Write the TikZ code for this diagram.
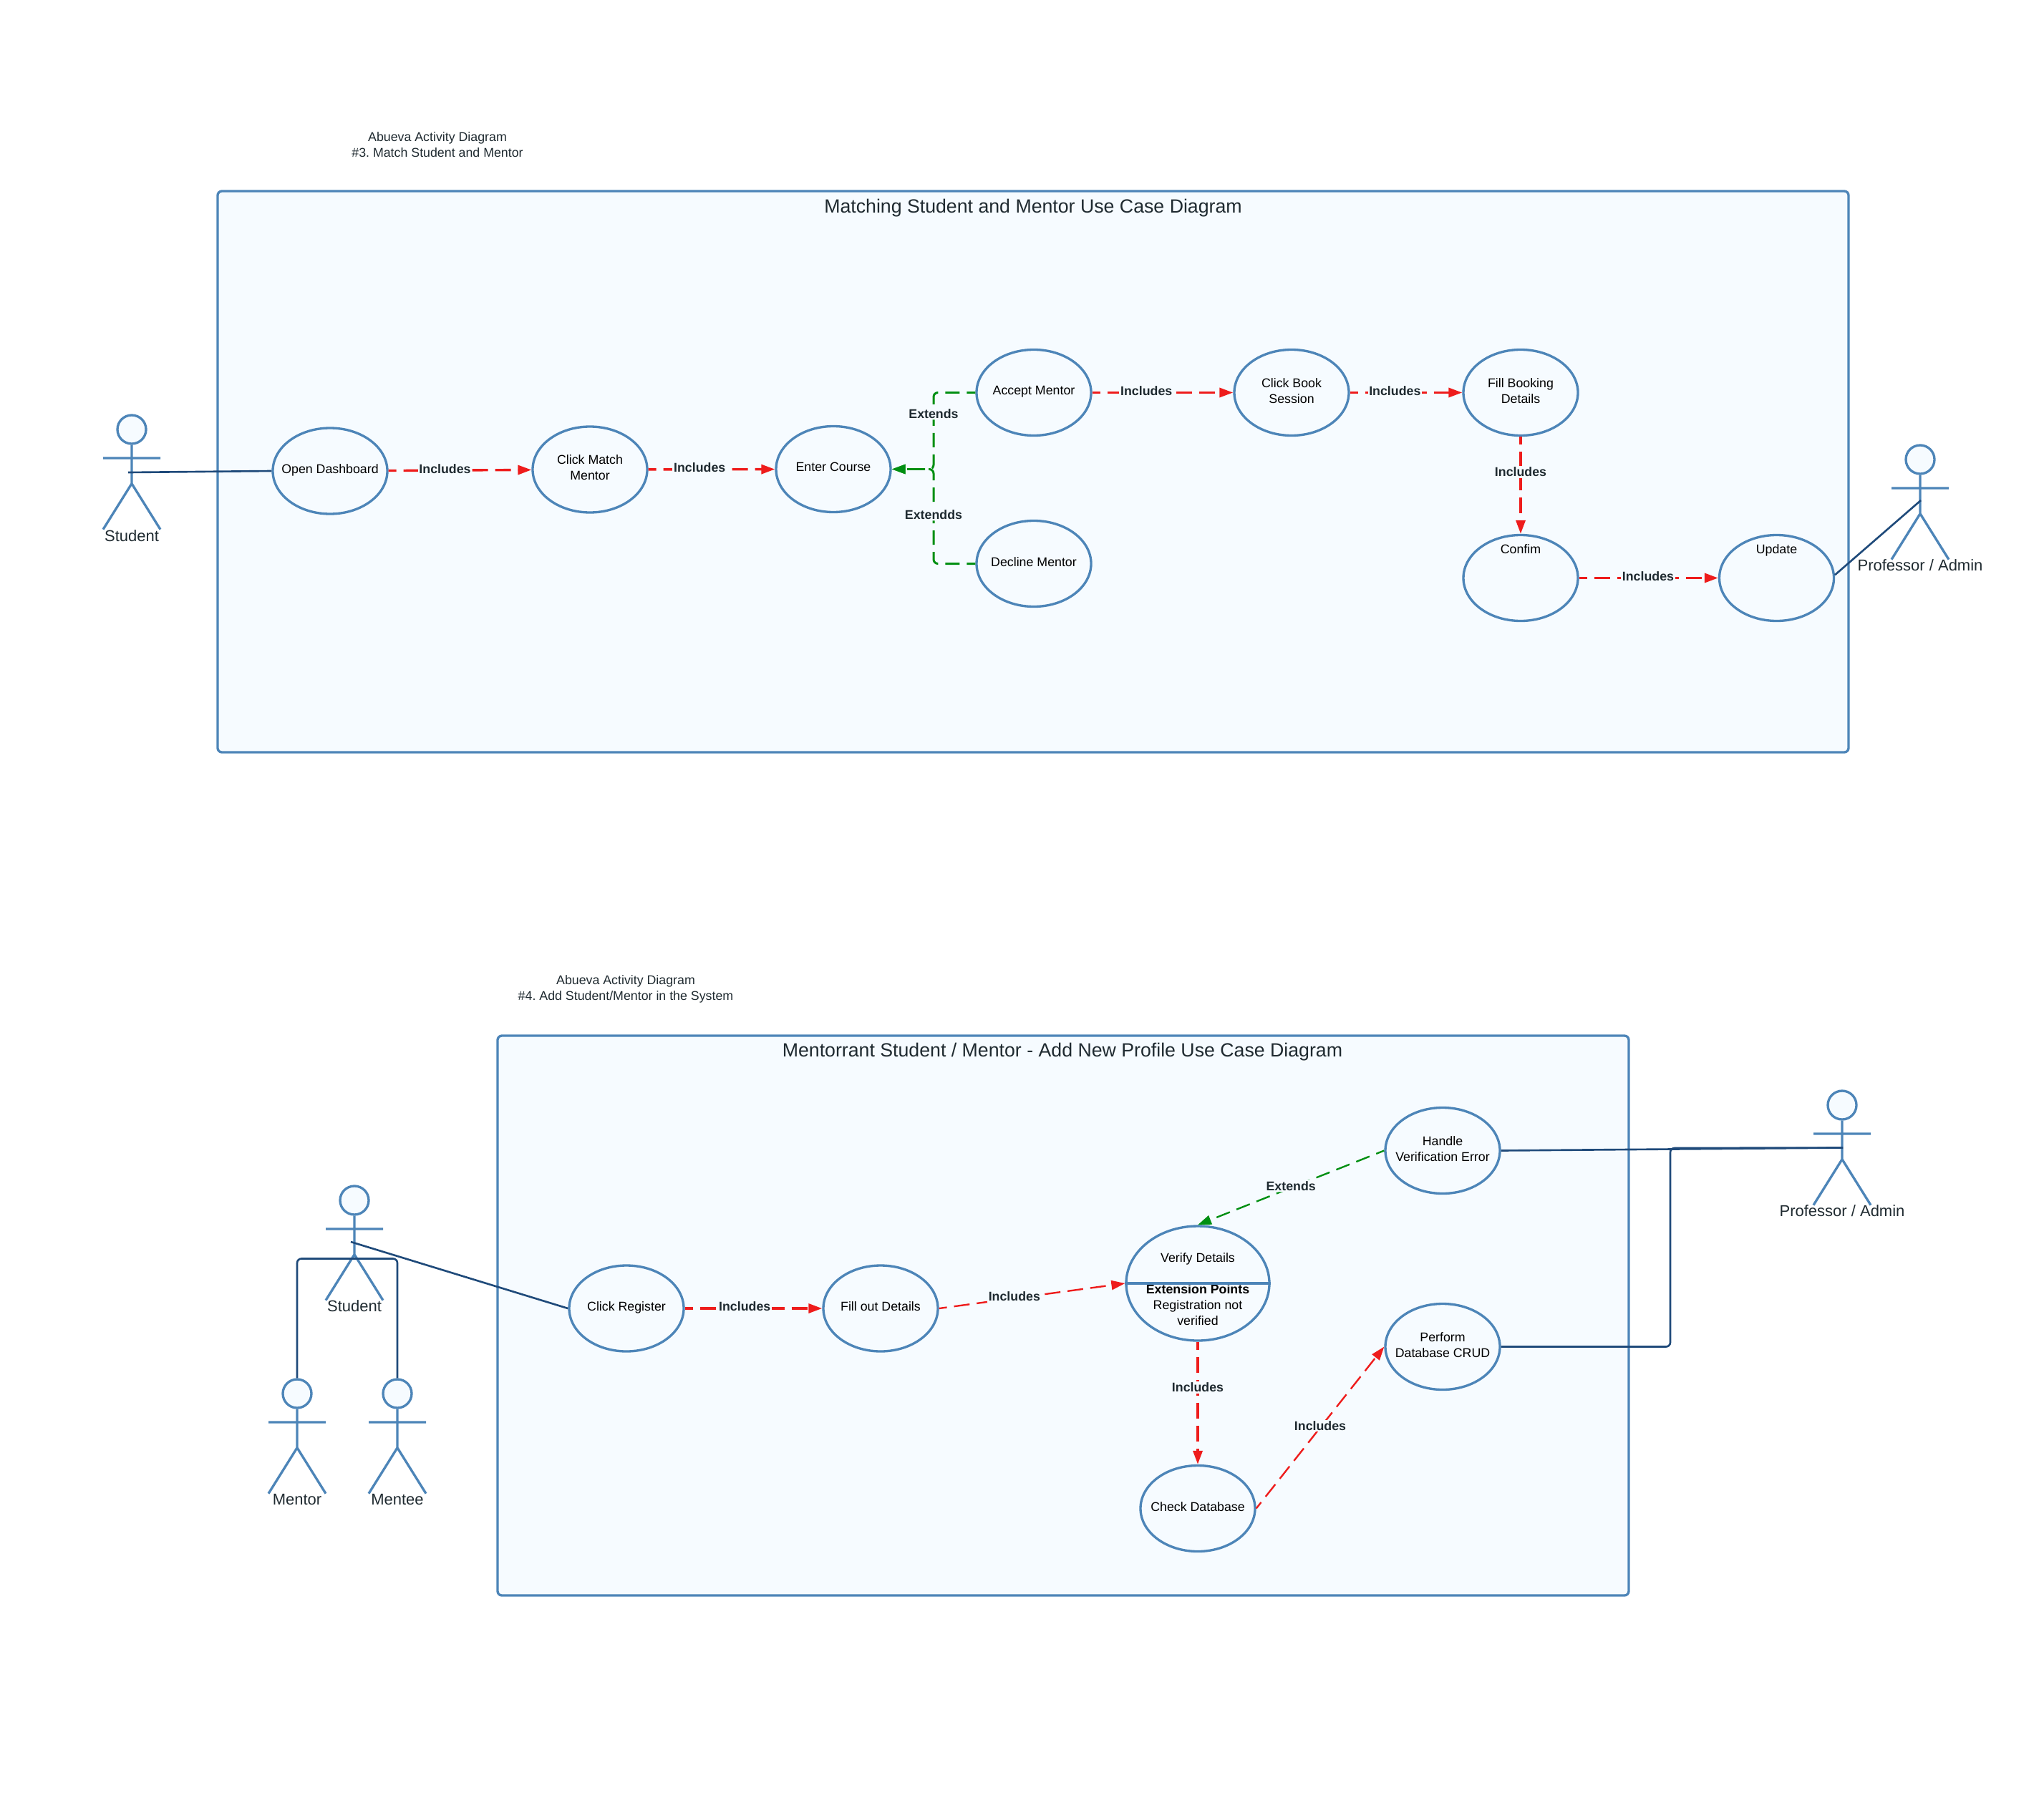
\documentclass[tikz,border=0pt]{standalone}
\usepackage{fontspec}
\setmainfont{Liberation Sans}
\usepackage{xcolor}
\usetikzlibrary{arrows.meta,shapes.geometric}
\definecolor{panelfill}{HTML}{F6FBFF}
\definecolor{panelline}{HTML}{4D85B8}
\definecolor{assocline}{HTML}{1F4A7A}
\definecolor{inclred}{HTML}{EE1C1C}
\definecolor{extgreen}{HTML}{008F12}
\definecolor{inktext}{HTML}{1F2A30}
\frenchspacing
\begin{document}
\begin{tikzpicture}[x=1cm,y=-1cm,>={Triangle[length=1.9mm,width=1.3mm]},
panel/.style={draw=panelline,fill=panelfill,line width=0.95pt,rounded corners=1.7pt,inner sep=0},
paneltitle/.style={text=inktext,font=\fontsize{7.6}{9.4}\selectfont},
notetext/.style={text=inktext,align=center,font=\fontsize{5.06}{6.2}\selectfont},
usecase/.style={ellipse,draw=panelline,fill=panelfill,line width=0.95pt,inner sep=-1.5cm,minimum width=1.6cm,minimum height=1.2cm,align=center,text depth=1.6pt,font=\fontsize{5.06}{6.2}\selectfont},
ucline/.style={draw=panelline,line width=0.95pt},
actorhead/.style={circle,draw=panelline,fill=panelfill,line width=0.95pt,inner sep=0,minimum size=0.4cm},
actorline/.style={draw=panelline,line width=0.95pt},
actorname/.style={text=inktext,font=\fontsize{6.26}{7.6}\selectfont},
assoc/.style={draw=assocline,line width=0.75pt,rounded corners=1.7pt},
includes/.style={->,draw=inclred,line width=0.95pt,dash pattern=on 0.22cm off 0.10cm,dash phase=0.11cm},
extends/.style={->,draw=extgreen,line width=0.85pt,rounded corners=1.7pt,dash pattern=on 0.2cm off 0.10cm,dash phase=0.08cm},
sloped line/.style={line width=0.68pt},
linktext/.style={text=inktext,fill=panelfill,inner sep=0.5pt,yshift=0.7pt,font=\bfseries\fontsize{5.06}{6.2}\selectfont}]
\useasboundingbox (0,0) rectangle (28.55,25.26);
\node[notetext] (nMatch) at (6.11,2.025) {Abueva Activity Diagram\\\#3. Match Student and Mentor};
\node[panel,minimum width=22.78cm,minimum height=7.84cm] (pMatch) at (14.43,6.59) {};
\node[paneltitle] (tMatch) at (14.43,2.91) {Matching Student and Mentor Use Case Diagram};
\node[notetext] (nAdd) at (8.74,13.82) {Abueva Activity Diagram\\\#4. Add Student/Mentor in the System};
\node[panel,minimum width=15.80cm,minimum height=7.82cm] (pAdd) at (14.85,18.38) {};
\node[paneltitle] (tAdd) at (14.84,14.70) {Mentorrant Student / Mentor - Add New Profile Use Case Diagram};
\node[actorhead] (aStudentHead) at (1.84,6.00) {};
\draw[actorline] (aStudentHead.south) -- ++(0,0.54) -- ++(-0.4,0.64) ++(0.4,-0.64) -- ++(0.4,0.64) (aStudentHead.center) ++(-0.4,0.4) -- ++(0.8,0);
\node[actorname] (aStudentName) at (1.84,7.49) {Student};
\node[actorhead] (aProfHead) at (26.82,6.42) {};
\draw[actorline] (aProfHead.south) -- ++(0,0.54) -- ++(-0.4,0.64) ++(0.4,-0.64) -- ++(0.4,0.64) (aProfHead.center) ++(-0.4,0.4) -- ++(0.8,0);
\node[actorname] (aProfName) at (26.82,7.90) {Professor / Admin};
\node[actorhead] (aLearnerHead) at (4.95,16.77) {};
\draw[actorline] (aLearnerHead.south) -- ++(0,0.54) -- ++(-0.4,0.64) ++(0.4,-0.64) -- ++(0.4,0.64) (aLearnerHead.center) ++(-0.4,0.4) -- ++(0.8,0);
\node[actorname] (aLearnerName) at (4.95,18.25) {Student};
\node[actorhead] (aMentorHead) at (4.15,19.47) {};
\draw[actorline] (aMentorHead.south) -- ++(0,0.54) -- ++(-0.4,0.64) ++(0.4,-0.64) -- ++(0.4,0.64) (aMentorHead.center) ++(-0.4,0.4) -- ++(0.8,0);
\node[actorname] (aMentorName) at (4.15,20.95) {Mentor};
\node[actorhead] (aMenteeHead) at (5.55,19.47) {};
\draw[actorline] (aMenteeHead.south) -- ++(0,0.54) -- ++(-0.4,0.64) ++(0.4,-0.64) -- ++(0.4,0.64) (aMenteeHead.center) ++(-0.4,0.4) -- ++(0.8,0);
\node[actorname] (aMenteeName) at (5.55,20.95) {Mentee};
\node[actorhead] (aAdminHead) at (25.73,15.44) {};
\draw[actorline] (aAdminHead.south) -- ++(0,0.54) -- ++(-0.4,0.64) ++(0.4,-0.64) -- ++(0.4,0.64) (aAdminHead.center) ++(-0.4,0.4) -- ++(0.8,0);
\node[actorname] (aAdminName) at (25.73,16.92) {Professor / Admin};
\node[usecase] (ucOpen) at (4.61,6.58) {Open Dashboard};
\node[usecase] (ucMatch) at (8.24,6.56) {Click Match\\Mentor};
\node[usecase] (ucEnter) at (11.64,6.555) {Enter Course};
\node[usecase] (ucAccept) at (14.44,5.485) {Accept Mentor};
\node[usecase] (ucDecline) at (14.44,7.875) {Decline Mentor};
\node[usecase] (ucBook) at (18.04,5.485) {Click Book\\Session};
\node[usecase] (ucFill) at (21.24,5.485) {Fill Booking\\Details};
\node[usecase] (ucConfim) at (21.24,8.075) {Confim\\[0.54cm]~};
\node[usecase] (ucUpdate) at (24.815,8.075) {Update\\[0.54cm]~};
\node[usecase] (ucRegister) at (8.75,18.28) {Click Register};
\node[usecase] (ucDetails) at (12.30,18.28) {Fill out Details};
\node[usecase,minimum width=2cm,minimum height=1.6cm] (ucVerify) at (16.73,17.93) {~\\[0.13cm]Verify Details\\[0.22cm]\textbf{Extension Points}\\Registration not\\verified};
\draw[ucline] (ucVerify.west) -- (ucVerify.east);
\node[usecase] (ucHandle) at (20.15,16.075) {Handle\\Verification Error};
\node[usecase] (ucPerform) at (20.15,18.815) {Perform\\Database CRUD};
\node[usecase] (ucCheck) at (16.73,21.075) {Check Database};
\coordinate (cStudentLink) at (1.79,6.60);
\coordinate (cProfLink) at (26.83,6.99);
\coordinate (cLearnerLink) at (4.90,17.35);
\coordinate (cLearnerJoin) at (4.95,17.585);
\coordinate (cAdminLink) at (25.74,16.035);
\coordinate (cAdminJoin) at (23.33,16.04);
\coordinate (cExtendJoin) at (13.04,6.555);
\draw[assoc] (cStudentLink) -- (ucOpen.west);
\draw[assoc] (ucUpdate.3) -- (cProfLink);
\draw[assoc] (cLearnerLink) -- (ucRegister.west);
\draw[assoc] (aMentorHead.north) |- (cLearnerJoin);
\draw[assoc] (aMenteeHead.north) |- (cLearnerJoin);
\draw[assoc] (ucHandle.east) -- (cAdminLink);
\draw[assoc] (ucPerform.east) -| (cAdminJoin) -- (cAdminLink);
\draw[includes] (ucOpen) -- (ucMatch) node[linktext,pos=0.395] (lInc1) {Includes};
\draw[includes] (ucMatch) -- (ucEnter) node[linktext,pos=0.405] (lInc2) {Includes};
\draw[includes] (ucAccept) -- (ucBook) node[linktext,pos=0.384] (lInc3) {Includes};
\draw[includes] (ucBook) -- (ucFill) node[linktext,pos=0.40] (lInc4) {Includes};
\draw[includes] (ucFill) -- (ucConfim) node[linktext,pos=0.38] (lInc5) {Includes};
\draw[includes] (ucConfim) -- (ucUpdate) node[linktext,pos=0.496] (lInc6) {Includes};
\draw[extends] (ucAccept.west) -| (cExtendJoin) node[linktext,pos=0.65] (lExt1) {Extends} -- (ucEnter.east);
\draw[extends] (ucDecline.west) -| (cExtendJoin) node[linktext,pos=0.75] (lExt2) {Extendds} -- (ucEnter.east);
\draw[includes] (ucRegister) -- (ucDetails) node[linktext,pos=0.436] (lInc7) {Includes};
\draw[includes,sloped line] (ucDetails.east) -- (ucVerify.west) node[linktext,pos=0.405] (lInc8) {Includes};
\draw[includes] (ucVerify.south) -- (ucCheck.north) node[linktext,pos=0.387] (lInc9) {Includes};
\draw[includes,sloped line] (ucCheck.east) -- (ucPerform.west) node[linktext,pos=0.5] (lInc10) {Includes};
\draw[extends,sloped line] (ucHandle.west) -- (ucVerify.north) node[linktext,pos=0.50] (lExt3) {Extends};
\end{tikzpicture}
\end{document}
